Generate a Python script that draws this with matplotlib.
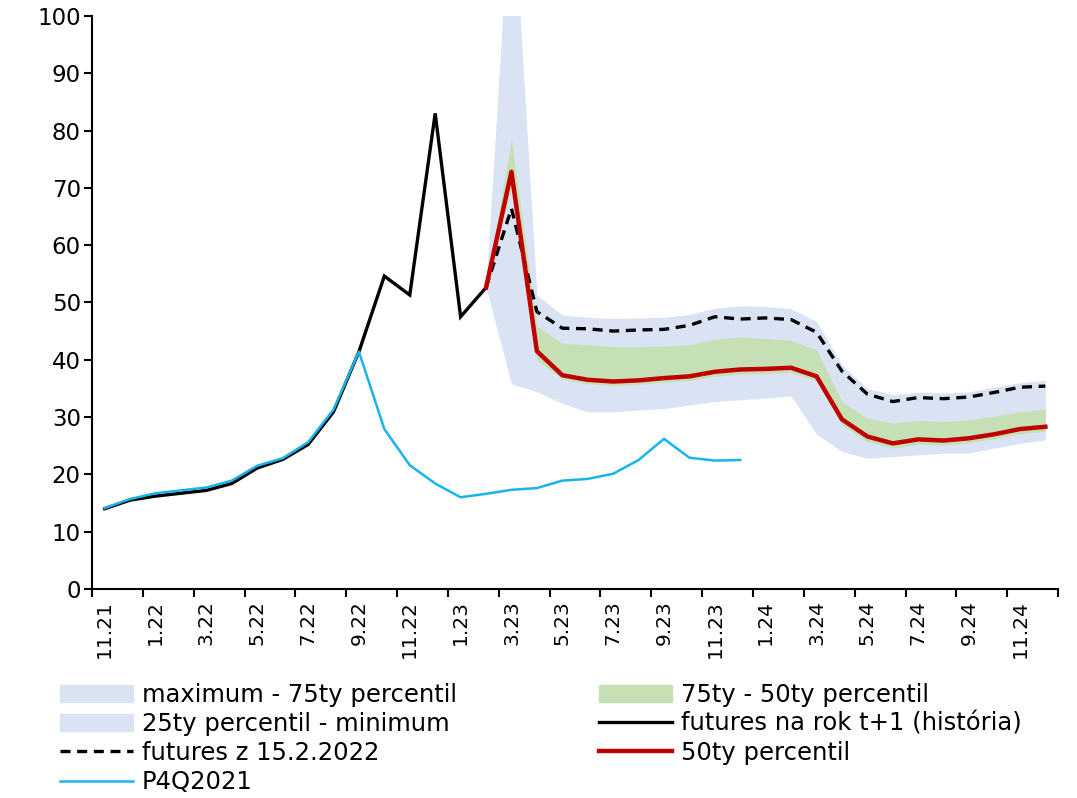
import numpy as np
import matplotlib.pyplot as plt
from matplotlib.patches import Patch
from matplotlib.lines import Line2D

plt.rcParams['font.family'] = ['DejaVu Sans']

# monthly categories 11.21 .. 12.24
months = ['11.21', '12.21', '1.22', '2.22', '3.22', '4.22', '5.22', '6.22', '7.22', '8.22',
          '9.22', '10.22', '11.22', '12.22', '1.23', '2.23', '3.23', '4.23', '5.23', '6.23',
          '7.23', '8.23', '9.23', '10.23', '11.23', '12.23', '1.24', '2.24', '3.24', '4.24',
          '5.24', '6.24', '7.24', '8.24', '9.24', '10.24', '11.24', '12.24']

# futures history (11.21 - 2.23)
history = [14.0, 15.5, 16.2, 16.7, 17.2, 18.4, 21.1, 22.6, 25.2, 30.9,
           41.4, 54.6, 51.3, 83.0, 47.5, 52.6]

# P4Q2021 (11.21 - 12.23)
p4q2021 = [14.1, 15.7, 16.7, 17.2, 17.7, 18.9, 21.5, 22.8, 25.6, 31.3,
           41.4, 27.9, 21.6, 18.4, 16.0, 16.6, 17.3, 17.6, 18.9, 19.2,
           20.1, 22.5, 26.2, 22.9, 22.4, 22.5]

# forecast part (2.23 - 12.24)
fc_start = 15
p_max = [52.6, 125.0, 51.3, 47.8, 47.4, 47.2, 47.3, 47.4, 47.9, 49.0, 49.4, 49.3,
         48.9, 46.7, 39.1, 35.0, 33.9, 34.3, 34.2, 34.4, 35.2, 36.0, 36.4]
p75 = [52.6, 78.5, 45.8, 42.9, 42.6, 42.3, 42.3, 42.4, 42.6, 43.6, 44.0, 43.7,
       43.4, 41.7, 32.7, 29.8, 28.9, 29.4, 29.2, 29.5, 30.2, 30.9, 31.4]
p50 = [52.6, 72.8, 41.5, 37.3, 36.5, 36.2, 36.4, 36.8, 37.1, 37.9, 38.3, 38.4,
       38.6, 37.1, 29.6, 26.6, 25.4, 26.1, 25.9, 26.3, 27.0, 27.9, 28.3]
p25 = [52.6, 70.0, 40.0, 36.6, 35.8, 35.5, 35.7, 36.1, 36.4, 37.1, 37.5, 37.6,
       37.8, 36.3, 28.6, 25.7, 24.6, 25.3, 25.1, 25.5, 26.2, 27.1, 27.5]
p_min = [52.6, 35.8, 34.4, 32.4, 30.9, 30.9, 31.2, 31.5, 32.1, 32.7, 33.0, 33.3,
         33.7, 27.0, 24.0, 22.8, 23.1, 23.4, 23.7, 23.7, 24.6, 25.4, 26.0]
futures = [52.6, 66.4, 48.4, 45.5, 45.4, 45.0, 45.2, 45.3, 46.0, 47.5, 47.1, 47.3,
           47.0, 44.8, 38.0, 34.0, 32.7, 33.4, 33.2, 33.5, 34.3, 35.2, 35.4]

c_band = '#dae3f3'
c_green = '#c5e0b4'
c_red = '#c00000'
c_blue = '#19b4ee'

fig = plt.figure(figsize=(10.77, 7.98), dpi=100)
ax = fig.add_axes([0.0854, 0.262, 0.897, 0.718])

x_fc = np.arange(fc_start, fc_start + len(p50))
ax.fill_between(x_fc, p_min, p_max, color=c_band, lw=0)
ax.fill_between(x_fc, p25, p75, color=c_green, lw=0)

ax.plot(np.arange(len(history)), history, color='black', lw=2.4, solid_joinstyle='miter')
ax.plot(x_fc, futures, color='black', lw=2.4, linestyle=(0, (3, 2)))
ax.plot(x_fc, p50, color=c_red, lw=3.2)
ax.plot(np.arange(len(p4q2021)), p4q2021, color=c_blue, lw=1.8)

ax.set_ylim(0, 100)
ax.set_xlim(-0.5, len(months) - 0.5)
ax.set_yticks(np.arange(0, 101, 10))
# tick marks between categories, labels on every second month
ax.set_xticks(np.arange(-0.5, len(months), 2))
ax.set_xticklabels([])
ax.set_xticks(np.arange(0, len(months), 2), minor=True)
ax.set_xticklabels(months[::2], minor=True, rotation=90)
ax.tick_params(axis='x', which='minor', length=0, pad=8, labelsize=14.5)
ax.tick_params(axis='x', which='major', length=6, width=1.5)
ax.tick_params(axis='y', length=6, width=1.5, labelsize=16.5, pad=2)
for s in ['top', 'right']:
    ax.spines[s].set_visible(False)
for s in ['left', 'bottom']:
    ax.spines[s].set_linewidth(1.5)

handles = [
    Patch(color=c_band), Patch(color=c_band),
    Line2D([], [], color='black', lw=2.4, linestyle=(0, (3, 2))),
    Line2D([], [], color=c_blue, lw=1.8),
    Patch(color=c_green),
    Line2D([], [], color='black', lw=2.4),
    Line2D([], [], color=c_red, lw=3.2),
]
labels = ['maximum - 75ty percentil', '25ty percentil - minimum', 'futures z 15.2.2022',
          'P4Q2021', '75ty - 50ty percentil', 'futures na rok t+1 (história)', '50ty percentil']
fig.legend(handles, labels, ncol=2, loc='upper left', bbox_to_anchor=(0.0467, 0.1566),
           frameon=False, fontsize=17.5, handlelength=3.0, handletextpad=0.37,
           columnspacing=5.85, labelspacing=0.21, borderaxespad=0)

fig.savefig('out.png', dpi=100)
